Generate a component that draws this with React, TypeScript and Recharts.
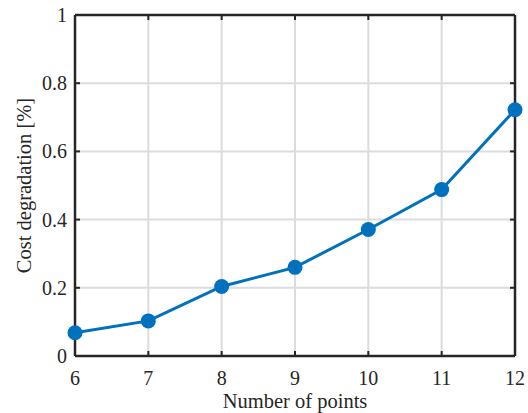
import React from "react";
import { CartesianGrid, Line, LineChart, ReferenceLine, XAxis, YAxis } from "recharts";

const points = [6, 7, 8, 9, 10, 11, 12];
const degradation = [0.068, 0.103, 0.204, 0.26, 0.371, 0.488, 0.722];
const xTicks = [6, 7, 8, 9, 10, 11, 12];
const yTicks = [0, 0.2, 0.4, 0.6, 0.8, 1];

const data = points.map((p, i) => ({ n: p, cost: degradation[i] }));

const W = 528;
const H = 413;
const LEFT = 75;
const TOP = 15;
const RIGHT = 13;
const XAXIS_H = 57;
const BOTTOM = H - XAXIS_H;
const PLOT_RIGHT = W - RIGHT;

const FONT = "Liberation Serif";
const AXIS = "#262626";
const TICK_LEN = 5;
const tickTxt = { fontFamily: FONT, fontSize: 20 };
const labelTxt = { fontFamily: FONT, fontSize: 20.5 };

const XTick = (props: any) => {
  const { x, payload } = props;
  return (
    <g>
      <line x1={x} x2={x} y1={BOTTOM} y2={BOTTOM - TICK_LEN} stroke={AXIS} strokeWidth={2} />
      <line x1={x} x2={x} y1={TOP} y2={TOP + TICK_LEN} stroke={AXIS} strokeWidth={2} />
      <text x={x} y={385} textAnchor="middle" style={tickTxt} fill={AXIS}>
        {payload.value}
      </text>
    </g>
  );
};

const YTick = (props: any) => {
  const { y, payload } = props;
  return (
    <g>
      <line x1={LEFT} x2={LEFT + TICK_LEN} y1={y} y2={y} stroke={AXIS} strokeWidth={2} />
      <line x1={PLOT_RIGHT} x2={PLOT_RIGHT - TICK_LEN} y1={y} y2={y} stroke={AXIS} strokeWidth={2} />
      <text x={67} y={y + 7} textAnchor="end" style={tickTxt} fill={AXIS}>
        {payload.value}
      </text>
    </g>
  );
};

export default function App() {
  const midY = (TOP + BOTTOM) / 2;
  return (
    <div style={{ position: "absolute", left: 0, top: 0, width: W, height: H, background: "#fff" }}>
      <LineChart width={W} height={H} data={data} margin={{ top: TOP, right: RIGHT, left: 0, bottom: 0 }}>
        <CartesianGrid stroke="#dcdcdc" strokeWidth={2} />
        <XAxis
          dataKey="n"
          type="number"
          domain={[6, 12]}
          ticks={xTicks}
          height={XAXIS_H}
          tickLine={false}
          axisLine={{ stroke: AXIS, strokeWidth: 2.5 }}
          tick={<XTick />}
          interval={0}
        />
        <YAxis
          type="number"
          domain={[0, 1]}
          ticks={yTicks}
          width={LEFT}
          tickLine={false}
          axisLine={{ stroke: AXIS, strokeWidth: 2.5 }}
          tick={<YTick />}
          interval={0}
        />
        <ReferenceLine y={1} stroke={AXIS} strokeWidth={2.5} />
        <ReferenceLine x={12} stroke={AXIS} strokeWidth={2.5} />
        <Line
          dataKey="cost"
          stroke="#0072BD"
          strokeWidth={3}
          dot={{ r: 7.5, fill: "#0072BD", stroke: "#0072BD", strokeWidth: 0 }}
          isAnimationActive={false}
        />
        <text x={(LEFT + PLOT_RIGHT) / 2} y={408} textAnchor="middle" style={labelTxt} fill={AXIS}>
          Number of points
        </text>
        <text
          x={31}
          y={midY}
          textAnchor="middle"
          style={labelTxt}
          fill={AXIS}
          transform={`rotate(-90, 31, ${midY})`}
        >
          Cost degradation [%]
        </text>
      </LineChart>
    </div>
  );
}
